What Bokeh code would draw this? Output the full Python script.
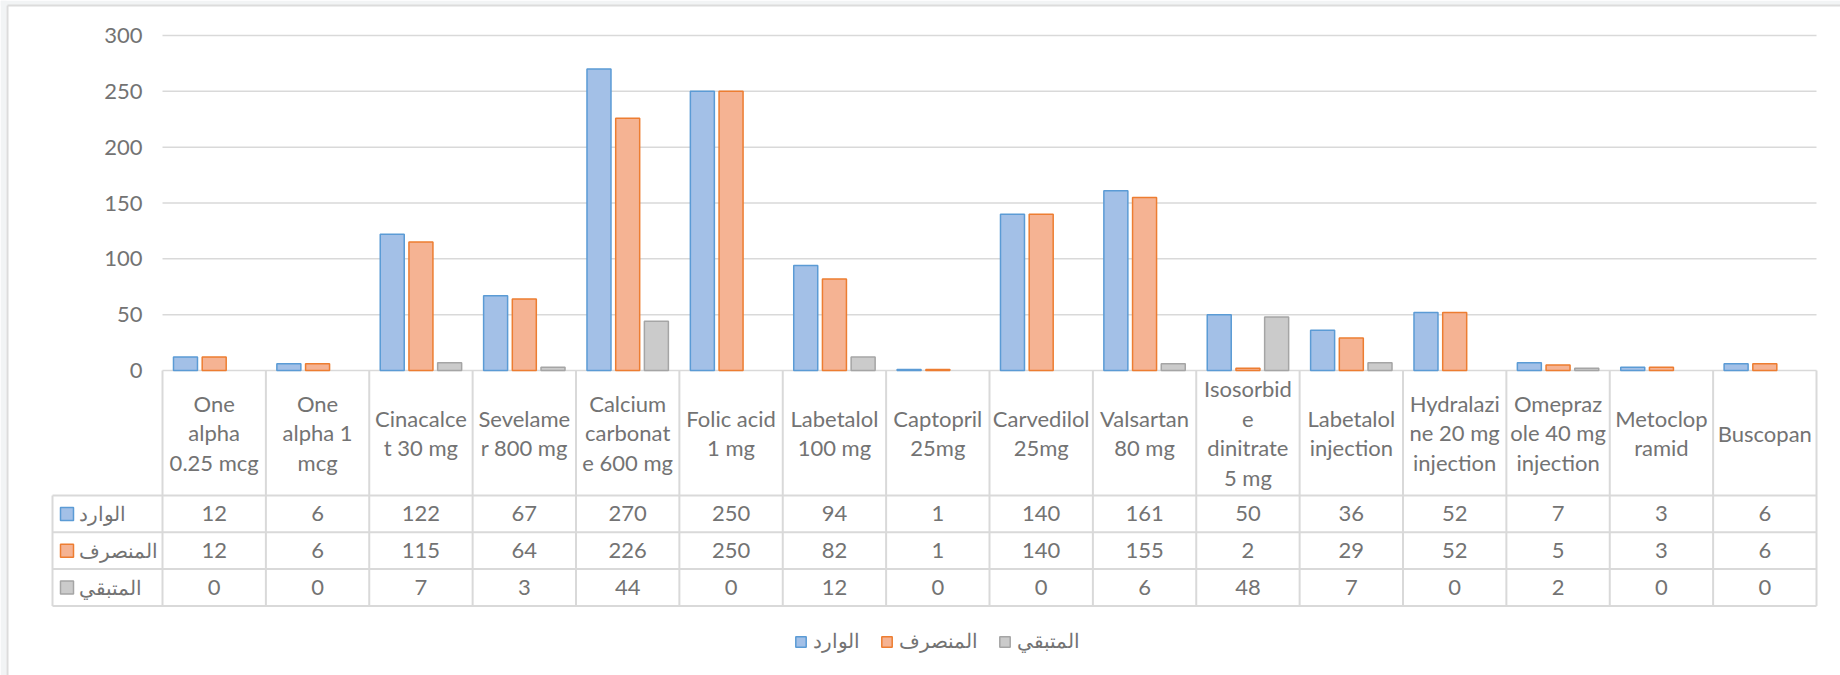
from bokeh.plotting import figure
from bokeh.models import Range1d, FixedTicker, Legend, LegendItem, ColumnDataSource
from bokeh.core.properties import value
from bokeh.embed import file_html
from bokeh.resources import INLINE

# ---------------- data ----------------
categories = [
    "One\nalpha\n0.25 mcg", "One\nalpha 1\nmcg", "Cinacalce\nt 30 mg", "Sevelame\nr 800 mg",
    "Calcium\ncarbonat\ne 600 mg", "Folic acid\n1 mg", "Labetalol\n100 mg", "Captopril\n25mg",
    "Carvedilol\n25mg", "Valsartan\n80 mg", "Isosorbid\ne\ndinitrate\n5 mg", "Labetalol\ninjection",
    "Hydralazi\nne 20 mg\ninjection", "Omepraz\nole 40 mg\ninjection", "Metoclop\nramid", "Buscopan",
]
series_names = ["الوارد", "المنصرف", "المتبقي"]
received = [12, 6, 122, 67, 270, 250, 94, 1, 140, 161, 50, 36, 52, 7, 3, 6]
dispensed = [12, 6, 115, 64, 226, 250, 82, 1, 140, 155, 2, 29, 52, 5, 3, 6]
remaining = [0, 0, 7, 3, 44, 0, 12, 0, 0, 6, 48, 7, 0, 2, 0, 0]
y_ticks = [0, 50, 100, 150, 200, 250, 300]

# ---------------- styling / layout ----------------
fills = ["#a3c0e7", "#f5b393", "#cbcbcb"]
lines = ["#5b9bd5", "#ed7d31", "#a5a5a5"]
TXT = "#737373"
GRID = "#d9d9d9"
FONT = "Lato"

W, H = 1840, 675
n = len(categories)
plot_left, plot_right = 162, 1816     # px span of the category area
xpx = (plot_right - plot_left) / n    # px per category
zero_px = 370                         # y of value 0 (px from top)
top_px = 35                           # y of value 300
k = (zero_px - top_px) / 300.0        # px per unit
y_top = 300 + top_px / k
y_bot = -(H - zero_px) / k

def below(px):
    return -px / k

def xdata(px):
    return (px - plot_left) / xpx

header_h = 125
row_h = 36.8
row_edges = [header_h + i * row_h for i in range(4)]
row_centers = [header_h + (i + 0.5) * row_h for i in range(3)]

p = figure(width=W, height=H, output_backend="svg", toolbar_location=None,
           x_range=Range1d(xdata(0), xdata(W)), y_range=Range1d(y_bot, y_top),
           min_border_left=0, min_border_right=0, min_border_top=0, min_border_bottom=0)
p.outline_line_color = None
p.xaxis.visible = False
p.xgrid.visible = False
p.ygrid.visible = False
p.background_fill_color = "white"
p.border_fill_color = "white"

# chart-area border and the backdrop outside it
p.quad(left=[xdata(0), xdata(0)], right=[xdata(6), xdata(W)], top=[y_top, y_top],
       bottom=[y_bot, below(5 - zero_px)], fill_color="#f2f4f5", line_color=None)
p.segment(x0=[xdata(7), xdata(7)], y0=[below(5 - zero_px), below(5 - zero_px)],
          x1=[xdata(7), xdata(W)], y1=[y_bot, below(5 - zero_px)], line_color="#dcdcdc", line_width=2)

yax = p.yaxis[0]
yax.fixed_location = 0
yax.ticker = FixedTicker(ticks=y_ticks)
yax.axis_line_color = None
yax.major_tick_line_color = None
yax.minor_tick_line_color = None
yax.major_tick_out = 0
yax.major_tick_in = 0
yax.major_label_standoff = 20
yax.major_label_text_font = FONT
yax.major_label_text_font_size = "22px"
yax.major_label_text_color = TXT

# value gridlines over the category area
p.segment(x0=[0] * len(y_ticks), y0=y_ticks, x1=[n] * len(y_ticks), y1=y_ticks,
          line_color=GRID, line_width=1.5)

xs = [i + 0.5 for i in range(n)]
bw = 24 / xpx
off = 28.7 / xpx
renderers = []
for j, (vals, o) in enumerate(zip([received, dispensed, remaining], [-off, 0, off])):
    keep = [i for i, v in enumerate(vals) if v != 0]
    src = ColumnDataSource(dict(x=[xs[i] + o for i in keep], top=[vals[i] for i in keep]))
    r = p.vbar(x="x", top="top", width=bw, bottom=0, source=src,
               fill_color=fills[j], line_color=lines[j], line_width=1.5)
    renderers.append(r)

# table grid lines
x0s = list(range(n + 1))
p.segment(x0=x0s, y0=[0] * (n + 1), x1=x0s, y1=[below(row_edges[-1])] * (n + 1),
          line_color=GRID, line_width=2)
rh_left = xdata(52)
p.segment(x0=[rh_left] * 4, y0=[below(e) for e in row_edges], x1=[n] * 4, y1=[below(e) for e in row_edges],
          line_color=GRID, line_width=2)
p.segment(x0=[rh_left], y0=[below(row_edges[0])], x1=[rh_left], y1=[below(row_edges[-1])],
          line_color=GRID, line_width=2)

# header labels
p.text(x=xs, y=[below(header_h / 2)] * n, text=categories, text_align="center",
       text_baseline="middle", text_font=value(FONT), text_font_size="22px", text_color=TXT,
       text_line_height=1.1)

# values
for j, vals in enumerate([received, dispensed, remaining]):
    p.text(x=xs, y=[below(row_centers[j])] * n, text=[str(v) for v in vals], text_align="center",
           text_baseline="middle", text_font=value(FONT), text_font_size="22px", text_color=TXT)

# row headers: key square + series name
sq = 13
p.rect(x=[xdata(60 + sq / 2)] * 3, y=[below(c) for c in row_centers], width=sq / xpx, height=sq / k,
       fill_color=fills, line_color=lines, line_width=1.5)
p.text(x=[xdata(78)] * 3, y=[below(c) for c in row_centers], text=series_names, text_align="left",
       text_baseline="middle", text_font_size="20px", text_color=TXT)

legend = Legend(items=[LegendItem(label=series_names[j], renderers=[renderers[j]]) for j in range(3)],
                orientation="horizontal", location=(794, 22), glyph_width=13, glyph_height=13,
                label_text_font_size="20px", label_text_color=TXT, label_standoff=6, spacing=20,
                padding=0, margin=0, border_line_color=None, background_fill_alpha=0,
                label_height=20)
p.add_layout(legend, "center")

open("out.html", "w").write(file_html(p, INLINE))
